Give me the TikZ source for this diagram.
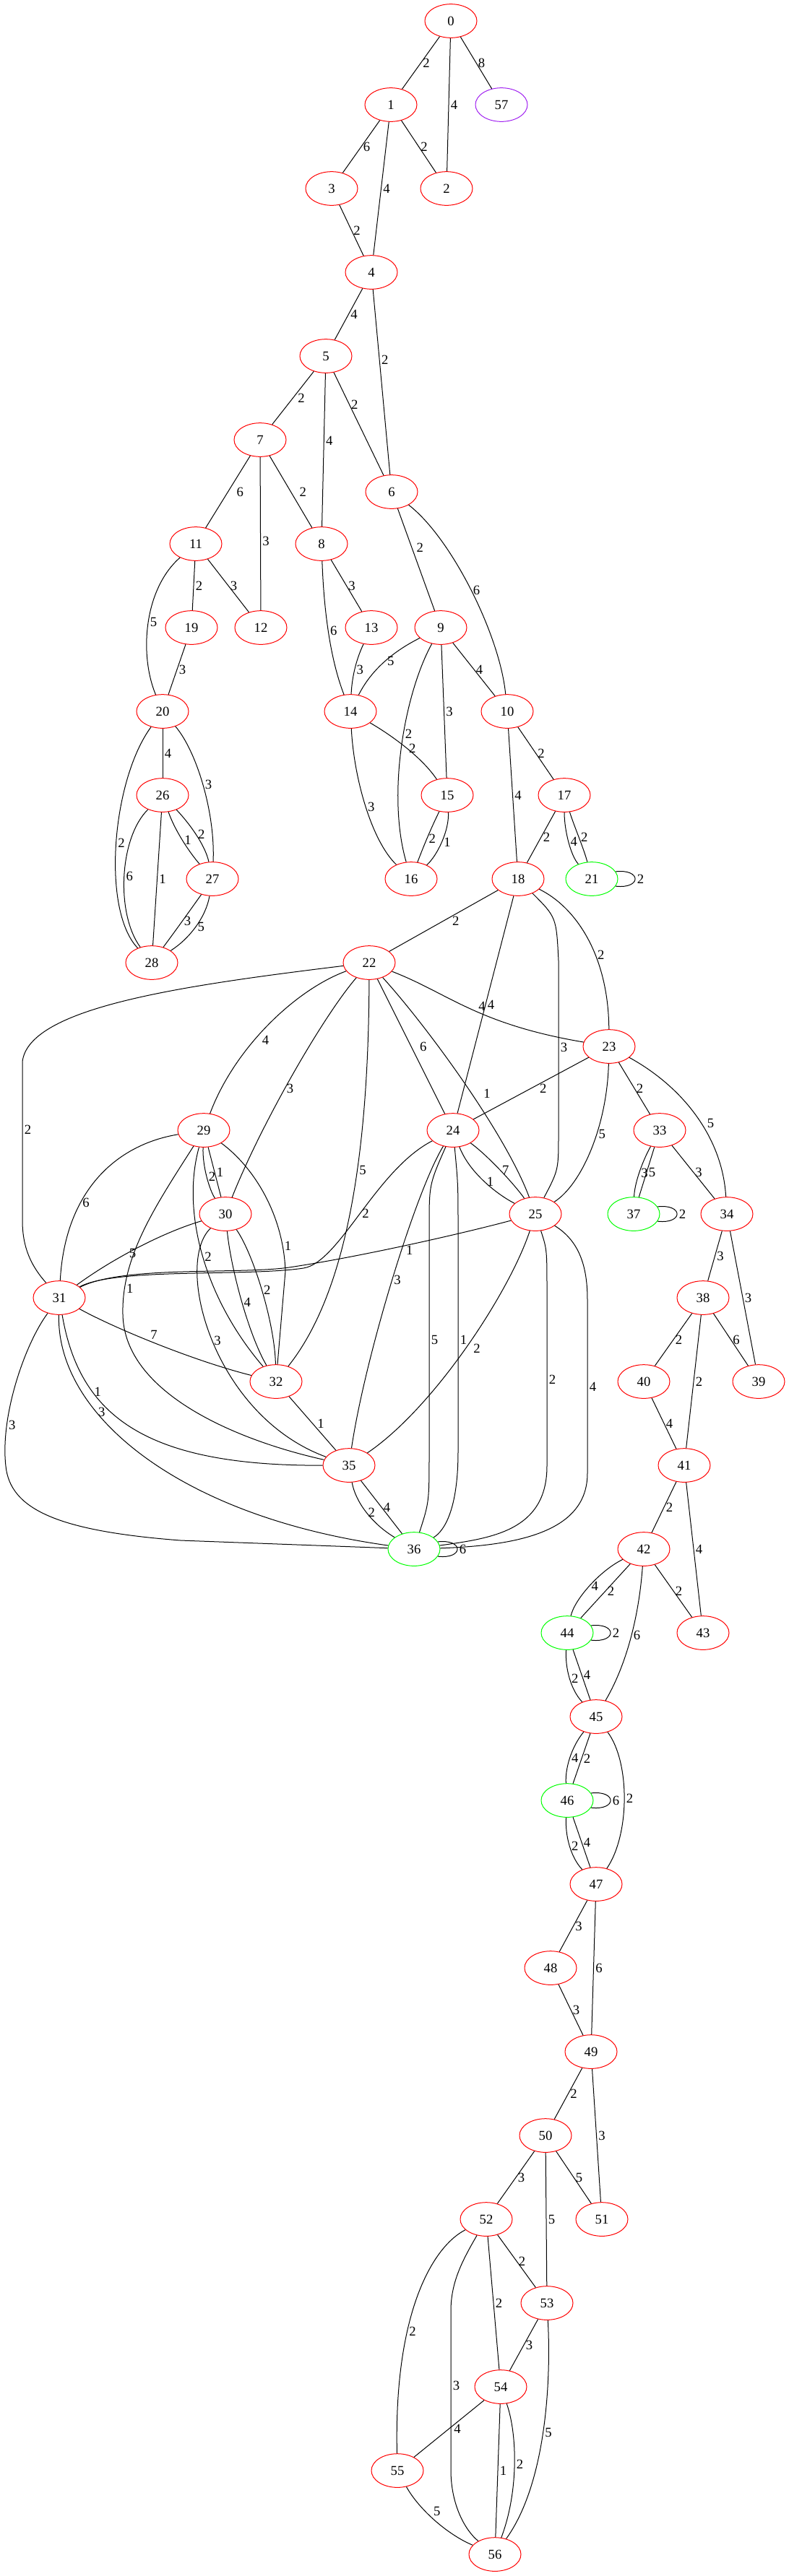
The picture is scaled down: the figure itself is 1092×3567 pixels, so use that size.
\documentclass[tikz,border=0pt]{standalone}
\usepackage{fontspec}
\setmainfont{Liberation Serif}
\usepackage{xcolor}
\usepackage{tikz}
\usetikzlibrary{shapes.geometric}

\definecolor{vred}{HTML}{FF0000}
\definecolor{vgreen}{HTML}{00FF00}
\definecolor{vpurple}{HTML}{A020F0}

\begin{document}
\begin{tikzpicture}[
  x=0.75pt, y=-0.75pt, line width=0.75pt,
  vtx/.style={draw=vred, ellipse, minimum width=54pt, minimum height=35pt,
              inner sep=0pt, font=\fontsize{14}{16}\selectfont},
  vtxg/.style={vtx, draw=vgreen},
  vtxp/.style={vtx, draw=vpurple},
  lbl/.style={anchor=west, inner sep=1pt, xshift=0.75pt,
              font=\fontsize{14}{16}\selectfont},
  lblmid/.style={xshift=3pt},
  lblfar/.style={xshift=7pt},
]
  \useasboundingbox (0,0) rectangle (1092,3567);

  \node[vtx] (v0) at (624,29) {0};
  \node[vtx] (v1) at (541,145) {1};
  \node[vtxp] (v57) at (694,145) {57};
  \node[vtx] (v3) at (459,261) {3};
  \node[vtx] (v2) at (618,261) {2};
  \node[vtx] (v4) at (514,377) {4};
  \node[vtx] (v5) at (451,493) {5};
  \node[vtx] (v7) at (360,609) {7};
  \node[vtx] (v6) at (542,681) {6};
  \node[vtx] (v11) at (271,753) {11};
  \node[vtx] (v8) at (445,753) {8};
  \node[vtx] (v19) at (265,869) {19};
  \node[vtx] (v12) at (361,869) {12};
  \node[vtx] (v13) at (514,869) {13};
  \node[vtx] (v9) at (610,869) {9};
  \node[vtx] (v20) at (225,985) {20};
  \node[vtx] (v14) at (485,985) {14};
  \node[vtx] (v10) at (702,985) {10};
  \node[vtx] (v26) at (225,1101) {26};
  \node[vtx] (v15) at (619,1101) {15};
  \node[vtx] (v17) at (781,1101) {17};
  \node[vtx] (v27) at (294,1217) {27};
  \node[vtx] (v16) at (569,1217) {16};
  \node[vtx] (v18) at (717,1217) {18};
  \node[vtxg] (v21) at (819,1217) {21};
  \node[vtx] (v28) at (210,1333) {28};
  \node[vtx] (v22) at (511,1333) {22};
  \node[vtx] (v23) at (843,1449) {23};
  \node[vtx] (v29) at (282,1565) {29};
  \node[vtx] (v24) at (627,1565) {24};
  \node[vtx] (v33) at (913,1565) {33};
  \node[vtx] (v30) at (312,1681) {30};
  \node[vtx] (v25) at (741,1681) {25};
  \node[vtxg] (v37) at (877,1681) {37};
  \node[vtx] (v34) at (1006,1681) {34};
  \node[vtx] (v31) at (82,1797) {31};
  \node[vtx] (v38) at (973,1797) {38};
  \node[vtx] (v32) at (382,1913) {32};
  \node[vtx] (v40) at (891,1913) {40};
  \node[vtx] (v39) at (1050,1913) {39};
  \node[vtx] (v35) at (483,2029) {35};
  \node[vtx] (v41) at (947,2029) {41};
  \node[vtxg] (v36) at (573,2145) {36};
  \node[vtx] (v42) at (891,2145) {42};
  \node[vtxg] (v44) at (785,2261) {44};
  \node[vtx] (v43) at (973,2261) {43};
  \node[vtx] (v45) at (825,2377) {45};
  \node[vtxg] (v46) at (785,2493) {46};
  \node[vtx] (v47) at (825,2609) {47};
  \node[vtx] (v48) at (762,2725) {48};
  \node[vtx] (v49) at (818,2841) {49};
  \node[vtx] (v50) at (755,2957) {50};
  \node[vtx] (v52) at (673,3073) {52};
  \node[vtx] (v51) at (833,3073) {51};
  \node[vtx] (v53) at (757,3189) {53};
  \node[vtx] (v54) at (693,3305) {54};
  \node[vtx] (v55) at (550,3421) {55};
  \node[vtx] (v56) at (685,3537) {56};

  \draw (v0) -- node[lbl]{2} (v1);
  \draw (v0) -- node[lbl]{4} (v2);
  \draw (v0) -- node[lbl]{8} (v57);
  \draw (v1) -- node[lbl]{6} (v3);
  \draw (v1) -- node[lbl]{4} (v4);
  \draw (v1) -- node[lbl]{2} (v2);
  \draw (v3) -- node[lbl]{2} (v4);
  \draw (v4) -- node[lbl]{4} (v5);
  \draw (v4) -- node[lbl, pos=0.38]{2} (v6);
  \draw (v5) -- node[lbl, lblmid]{2} (v7);
  \draw (v5) -- node[lbl, pos=0.44]{4} (v8);
  \draw (v5) -- node[lbl, pos=0.31]{2} (v6);
  \draw (v7) -- node[lbl, lblfar]{6} (v11);
  \draw (v7) -- node[lbl, pos=0.55]{3} (v12);
  \draw (v7) -- node[lbl, lblfar]{2} (v8);
  \draw (v6) -- node[lbl, lblmid, pos=0.38]{2} (v9);
  \draw (v6) .. controls (625,745) and (692,880) .. (v10) node[lbl, pos=0.5]{6};
  \draw (v11) .. controls (200,815) and (192,905) .. (v20) node[lbl, pos=0.5]{5};
  \draw (v11) -- node[lbl]{2} (v19);
  \draw (v11) -- node[lbl]{3} (v12);
  \draw (v8) .. controls (448,840) and (456,910) .. (v14) node[lbl, pos=0.5]{6};
  \draw (v8) -- node[lbl]{3} (v13);
  \draw (v19) -- node[lbl]{3} (v20);
  \draw (v13) .. controls (492,915) and (487,940) .. (v14) node[lbl, pos=0.5]{3};
  \draw (v9) .. controls (548,900) and (515,925) .. (v14) node[lbl, pos=0.5]{5};
  \draw (v9) .. controls (560,960) and (535,1100) .. (v16) node[lbl, pos=0.45]{2};
  \draw (v9) -- node[lbl]{3} (v15);
  \draw (v9) -- node[lbl]{4} (v10);
  \draw (v14) .. controls (545,1020) and (585,1050) .. (v15) node[lbl, pos=0.5]{2};
  \draw (v14) .. controls (490,1080) and (515,1165) .. (v16) node[lbl, pos=0.5]{3};
  \draw (v15) .. controls (595,1150) and (585,1175) .. (v16) node[lbl, pos=0.5]{2};
  \draw (v15) .. controls (622,1150) and (605,1185) .. (v16) node[lbl, pos=0.5]{1};
  \draw (v10) -- node[lbl]{4} (v18);
  \draw (v10) -- node[lbl]{2} (v17);
  \draw (v17) -- node[lbl]{2} (v18);
  \draw (v17) .. controls (781,1150) and (790,1185) .. (v21) node[lbl, pos=0.5]{4};
  \draw (v17) .. controls (795,1145) and (808,1175) .. (v21) node[lbl, pos=0.5]{2};
  \draw (v21.17) .. controls +(36,-4) and +(36,4) .. (v21.-17) node[lbl, pos=0.5]{2};

  \draw (v20) -- node[lbl]{4} (v26);
  \draw (v20) .. controls (272,1040) and (298,1125) .. (v27) node[lbl, pos=0.5]{3};
  \draw (v20) .. controls (155,1080) and (140,1260) .. (v28) node[lbl, pos=0.5]{2};
  \draw (v26) .. controls (165,1160) and (160,1265) .. (v28) node[lbl, pos=0.5]{6};
  \draw (v26) -- node[lbl]{1} (v28);
  \draw (v26) .. controls (242,1150) and (262,1180) .. (v27) node[lbl, pos=0.5]{1};
  \draw (v26) .. controls (262,1140) and (284,1170) .. (v27) node[lbl, pos=0.5]{2};
  \draw (v27) .. controls (262,1262) and (242,1290) .. (v28) node[lbl, pos=0.5]{3};
  \draw (v27) .. controls (285,1270) and (262,1300) .. (v28) node[lbl, pos=0.5]{5};

  \draw (v18) -- node[lbl, lblfar]{2} (v22);
  \draw (v18) -- node[lbl]{4} (v24);
  \draw (v18) .. controls (770,1270) .. (773,1330) -- (773,1570) node[lbl, pos=0.5]{3}
    .. controls (773,1620) .. (v25);
  \draw (v18) .. controls (795,1255) and (842,1320) .. (v23) node[lbl, pos=0.62]{2};
  \draw (v22) .. controls (620,1375) and (660,1418) .. (v23)
    node[lbl, pos=0.55, anchor=south west, xshift=-0.75pt]{4};
  \draw (v22) .. controls (250,1365) and (40,1395) .. (31,1470) -- (31,1690)
    node[lbl, pos=0.43]{2} .. controls (31,1730) and (45,1755) .. (v31);
  \draw (v22) .. controls (410,1370) and (325,1450) .. (v29) node[lbl, pos=0.6, xshift=6pt]{4};
  \draw (v22) .. controls (445,1410) and (360,1560) .. (v30) node[lbl, pos=0.55]{3};
  \draw (v22) .. controls (510,1600) and (480,1790) .. (v32) node[lbl, pos=0.4]{5};
  \draw (v22) -- node[lbl, lblfar]{6} (v24);
  \draw (v22) .. controls (590,1420) and (700,1570) .. (v25) node[lbl, pos=0.55, xshift=10pt]{1};
  \draw (v23) -- node[lbl, lblfar]{2} (v24);
  \draw (v23) .. controls (840,1560) and (805,1640) .. (v25) node[lbl, pos=0.4]{5};
  \draw (v23) -- node[lbl]{2} (v33);
  \draw (v23) .. controls (945,1505) and (1000,1575) .. (v34) node[lbl, pos=0.55, xshift=4pt]{5};
  \draw (v24) .. controls (650,1625) and (690,1655) .. (v25) node[lbl, pos=0.5]{1};
  \draw (v24) .. controls (675,1600) and (712,1640) .. (v25) node[lbl, pos=0.5]{7};
  \draw (v24) .. controls (520,1620) and (470,1748) .. (420,1756) node[lbl, pos=0.5]{2}
    .. controls (340,1768) and (160,1755) .. (v31);
  \draw (v25) .. controls (640,1708) and (500,1740) .. (400,1755) node[lbl, pos=0.5, anchor=north]{1}
    .. controls (330,1765) and (170,1752) .. (v31);
  \draw (v24) .. controls (575,1650) and (505,1880) .. (v35) node[lbl, pos=0.5]{3};
  \draw (v24) .. controls (594,1640) .. (594,1700) -- (594,2010) node[lbl, pos=0.5]{5}
    .. controls (594,2080) .. (v36);
  \draw (v24) .. controls (634,1640) .. (634,1700) -- (634,2010) node[lbl, pos=0.5]{1}
    .. controls (634,2090) and (615,2120) .. (v36);
  \draw (v25) .. controls (705,1790) and (600,1950) .. (v35) node[lbl, pos=0.5, xshift=6pt]{2};
  \draw (v25) .. controls (757,1730) .. (757,1790) -- (757,2030) node[lbl, pos=0.5]{2}
    .. controls (757,2120) and (680,2130) .. (v36);
  \draw (v25) .. controls (805,1720) and (813,1760) .. (813,1800) -- (813,2040) node[lbl, pos=0.5]{4}
    .. controls (813,2120) and (720,2140) .. (v36);

  \draw (v29) .. controls (160,1585) and (90,1650) .. (v31) node[lbl, pos=0.65]{6};
  \draw (v29) .. controls (215,1670) and (168,1740) .. (170,1820) node[lbl, pos=0.85]{1}
    .. controls (172,1930) and (330,1995) .. (v35);
  \draw (v29) .. controls (250,1680) and (285,1800) .. (v32) node[lbl, pos=0.5]{2};
  \draw (v29) .. controls (280,1615) and (290,1648) .. (v30) node[lbl, pos=0.5]{2};
  \draw (v29) -- node[lbl]{1} (v30);
  \draw (v29) .. controls (350,1615) and (392,1680) .. (395,1760) node[lbl, pos=0.85]{1} -- (v32);
  \draw (v30) .. controls (230,1705) and (160,1740) .. (v31) node[lbl, pos=0.6]{5};
  \draw (v30) .. controls (240,1750) and (295,1960) .. (v35) node[lbl, pos=0.5]{3};
  \draw (v30) .. controls (320,1760) and (345,1850) .. (v32) node[lbl, pos=0.5]{4};
  \draw (v30) .. controls (350,1735) and (380,1830) .. (v32) node[lbl, pos=0.5]{2};
  \draw (v31) .. controls (160,1840) and (270,1885) .. (v32) node[lbl, pos=0.45, anchor=south west]{7};
  \draw (v31) .. controls (110,1960) and (200,2030) .. (v35) node[lbl, pos=0.3]{1};
  \draw (v31) .. controls (78,1960) and (250,2100) .. (v36) node[lbl, pos=0.33]{3};
  \draw (v31) .. controls (35,1860) and (0,1960) .. (8,2030) node[lbl, pos=0.75]{3}
    .. controls (14,2090) and (80,2120) .. (250,2133) -- (v36);
  \draw (v32) -- node[lbl, lblmid]{1} (v35);
  \draw (v35) .. controls (492,2080) and (515,2110) .. (v36) node[lbl, pos=0.5]{2};
  \draw (v35) -- node[lbl]{4} (v36);
  \draw (v36.17) .. controls +(36,-4) and +(36,4) .. (v36.-17) node[lbl, pos=0.5]{6};

  \draw (v33) .. controls (888,1610) and (878,1640) .. (v37) node[lbl, pos=0.5]{3};
  \draw (v33) -- node[lbl]{5} (v37);
  \draw (v33) -- node[lbl]{3} (v34);
  \draw (v37.17) .. controls +(36,-4) and +(36,4) .. (v37.-17) node[lbl, pos=0.5]{2};
  \draw (v34) -- node[lbl]{3} (v38);
  \draw (v34) -- node[lbl]{3} (v39);
  \draw (v38) -- node[lbl]{2} (v40);
  \draw (v38) -- node[lbl]{2} (v41);
  \draw (v38) -- node[lbl]{6} (v39);
  \draw (v40) -- node[lbl]{4} (v41);
  \draw (v41) -- node[lbl]{2} (v42);
  \draw (v41) -- node[lbl]{4} (v43);
  \draw (v42) .. controls (830,2175) and (795,2215) .. (v44) node[lbl, pos=0.5]{4};
  \draw (v42) -- node[lbl]{2} (v44);
  \draw (v42) .. controls (885,2230) and (870,2300) .. (v45) node[lbl, pos=0.5]{6};
  \draw (v42) -- node[lbl]{2} (v43);
  \draw (v44.17) .. controls +(36,-4) and +(36,4) .. (v44.-17) node[lbl, pos=0.5]{2};
  \draw (v44) .. controls (782,2310) and (790,2340) .. (v45) node[lbl, pos=0.5]{2};
  \draw (v44) -- node[lbl]{4} (v45);
  \draw (v45) .. controls (790,2420) and (782,2450) .. (v46) node[lbl, pos=0.5]{4};
  \draw (v45) -- node[lbl]{2} (v46);
  \draw (v45) .. controls (872,2440) and (872,2540) .. (v47) node[lbl, pos=0.5]{2};
  \draw (v46.17) .. controls +(36,-4) and +(36,4) .. (v46.-17) node[lbl, pos=0.5]{6};
  \draw (v46) .. controls (782,2542) and (790,2572) .. (v47) node[lbl, pos=0.5]{2};
  \draw (v46) -- node[lbl]{4} (v47);
  \draw (v47) -- node[lbl]{3} (v48);
  \draw (v47) -- node[lbl]{6} (v49);
  \draw (v48) -- node[lbl]{3} (v49);
  \draw (v49) -- node[lbl]{2} (v50);
  \draw (v49) -- node[lbl]{3} (v51);
  \draw (v50) -- node[lbl]{3} (v52);
  \draw (v50) -- node[lbl]{5} (v53);
  \draw (v50) -- node[lbl]{5} (v51);
  \draw (v52) -- node[lbl]{2} (v53);
  \draw (v52) .. controls (600,3110) and (545,3200) .. (v55) node[lbl, pos=0.65]{2};
  \draw (v52) .. controls (640,3130) and (624,3160) .. (624,3200) -- (624,3420) node[lbl, pos=0.47]{3}
    .. controls (624,3470) and (645,3505) .. (v56);
  \draw (v52) -- node[lbl]{2} (v54);
  \draw (v53) -- node[lbl]{3} (v54);
  \draw (v53) .. controls (763,3300) and (755,3440) .. (v56) node[lbl, pos=0.5]{5};
  \draw (v54) -- node[lbl, lblmid]{4} (v55);
  \draw (v54) -- node[lbl]{1} (v56);
  \draw (v54) .. controls (716,3370) and (718,3450) .. (v56) node[lbl, pos=0.5]{2};
  \draw (v55) .. controls (580,3475) and (620,3510) .. (v56) node[lbl, pos=0.45, anchor=south west]{5};
\end{tikzpicture}
\end{document}
